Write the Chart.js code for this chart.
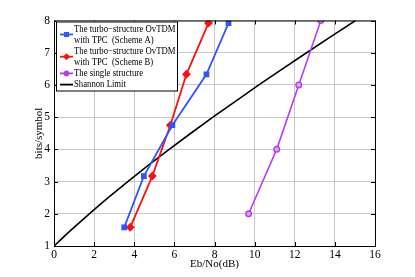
<!DOCTYPE html>
<html lang="en">
<head>
  <meta charset="UTF-8" />
  <title>OvTDM spectral efficiency</title>
  <script src="https://cdn.jsdelivr.net/npm/chart.js"></script>
  <style>
    html, body { margin: 0; padding: 0; background: #fff; }
    #wrap { width: 415px; height: 277px; position: relative; }
  </style>
</head>
<body>
  <div id="wrap"><canvas id="chart"></canvas></div>
  <script>
    // values
    const schemeAx = [3.5, 4.48, 5.9, 7.6, 8.7];
    const schemeAy = [1.58, 3.17, 4.75, 6.33, 7.92];
    const schemeBx = [3.8, 4.9, 5.8, 6.6, 7.7];
    const schemeBy = [1.58, 3.17, 4.75, 6.33, 7.92];
    const singleX = [9.7, 11.1, 12.2, 13.3];
    const singleY = [2, 4, 6, 8];
    const shannonX = [0, 0.43, 0.86, 1.31, 1.76, 2.23, 2.70, 3.68, 4.69, 5.74, 6.82, 7.92, 9.06, 10.21, 11.39, 12.59, 13.80, 15.03];
    const shannonY = [1, 1.25, 1.5, 1.75, 2, 2.25, 2.5, 3, 3.5, 4, 4.5, 5, 5.5, 6, 6.5, 7, 7.5, 8];
    const xTicks = [0, 2, 4, 6, 8, 10, 12, 14, 16];
    const yTicks = [1, 2, 3, 4, 5, 6, 7, 8];

    const legendLines = [
      ["The turbo\u2212structure OvTDM", "with TPC  (Scheme A)"],
      ["The turbo\u2212structure OvTDM", "with TPC  (Scheme B)"],
      ["The single structure"],
      ["Shannon Limit"]
    ];

    const BLUE = '#2e55ff', RED = '#ff1010', PURPLE = '#b43cf5';
    const SERIF = '"Liberation Serif", "DejaVu Serif", serif';

    const pts = (xs, ys) => xs.map((x, i) => ({ x, y: ys[i] }));

    // frame, inward ticks and the boxed legend
    const framePlugin = {
      id: 'frame',
      afterDatasetsDraw(chart) {
        const { ctx, chartArea: a, scales } = chart;
        ctx.save();
        ctx.strokeStyle = '#000';
        ctx.lineWidth = 1;
        ctx.strokeRect(a.left + 0.5, a.top + 0.5, a.right - a.left, a.bottom - a.top);
        ctx.beginPath();
        xTicks.forEach(v => {
          const px = Math.round(scales.x.getPixelForValue(v)) + 0.5;
          ctx.moveTo(px, a.bottom); ctx.lineTo(px, a.bottom - 4);
          ctx.moveTo(px, a.top); ctx.lineTo(px, a.top + 4);
        });
        yTicks.forEach(v => {
          const py = Math.round(scales.y.getPixelForValue(v)) + 0.5;
          ctx.moveTo(a.left, py); ctx.lineTo(a.left + 4, py);
          ctx.moveTo(a.right, py); ctx.lineTo(a.right - 4, py);
        });
        ctx.stroke();

        // legend
        const bx = a.left + 2, by = a.top + 1, bw = 121, bh = 69;
        ctx.fillStyle = '#fff';
        ctx.fillRect(bx, by, bw, bh);
        ctx.strokeStyle = '#000';
        ctx.strokeRect(bx + 0.5, by + 0.5, bw, bh);
        ctx.font = '10px ' + SERIF;
        ctx.textBaseline = 'middle';
        let y = by + 7.5;
        chart.data.datasets.forEach((ds, i) => {
          const lines = legendLines[i];
          const my = y + (lines.length - 1) * 5.5;
          ctx.strokeStyle = ds.borderColor;
          ctx.lineWidth = 1.8;
          ctx.beginPath();
          ctx.moveTo(bx + 4, my); ctx.lineTo(bx + 17, my);
          ctx.stroke();
          if (ds.pointRadius > 0) {
            ctx.fillStyle = ds.borderColor;
            ctx.beginPath();
            if (ds.pointStyle === 'rect') ctx.rect(bx + 8, my - 2.5, 5, 5);
            else if (ds.pointStyle === 'rectRot') {
              ctx.moveTo(bx + 10.5, my - 3.5); ctx.lineTo(bx + 14, my);
              ctx.lineTo(bx + 10.5, my + 3.5); ctx.lineTo(bx + 7, my);
              ctx.closePath();
            } else ctx.arc(bx + 10.5, my, 2.8, 0, Math.PI * 2);
            ctx.fill();
          }
          ctx.fillStyle = '#000';
          lines.forEach(t => {
            ctx.save();
            ctx.translate(bx + 18, y);
            ctx.scale(0.87, 1);
            ctx.fillText(t, 0, 0);
            ctx.restore();
            y += 11;
          });
          y += 0.2;
        });
        ctx.restore();
      }
    };

    const gridStyle = {
      color: '#c8c8c8',
      lineWidth: 1,
      borderDash: [1, 2],
      drawTicks: false
    };

    new Chart(document.getElementById('chart'), {
      type: 'scatter',
      data: {
        datasets: [
          { data: pts(schemeAx, schemeAy), borderColor: BLUE, backgroundColor: BLUE,
            showLine: true, borderWidth: 1.8, pointStyle: 'rect', pointRadius: 2.8 },
          { data: pts(schemeBx, schemeBy), borderColor: RED, backgroundColor: RED,
            showLine: true, borderWidth: 1.8, pointStyle: 'rectRot', pointRadius: 3.2 },
          { data: pts(singleX, singleY), borderColor: PURPLE, backgroundColor: '#d9a6fb',
            showLine: true, borderWidth: 1.6, pointStyle: 'circle', pointRadius: 2.8, pointBorderWidth: 1.4 },
          { data: pts(shannonX, shannonY), borderColor: '#000', backgroundColor: '#000',
            showLine: true, borderWidth: 1.6, pointRadius: 0, tension: 0 }
        ]
      },
      options: {
        responsive: true,
        maintainAspectRatio: false,
        animation: false,
        layout: { padding: { left: 33, top: 20.5, right: 40, bottom: 6 } },
        plugins: { legend: { display: false }, tooltip: { enabled: false } },
        scales: {
          x: {
            type: 'linear', min: 0, max: 16,
            afterBuildTicks: s => { s.ticks = xTicks.map(v => ({ value: v })); },
            afterFit: s => { s.height = 25; },
            grid: gridStyle,
            border: { display: false },
            ticks: { color: '#000', padding: 2, maxRotation: 0, font: { family: SERIF, size: 11.5 } },
            title: { display: true, text: 'Eb/No(dB)', color: '#000', padding: { top: 0, bottom: 0 },
                     font: { family: SERIF, size: 11 } }
          },
          y: {
            type: 'linear', min: 1, max: 8,
            afterBuildTicks: s => { s.ticks = yTicks.map(v => ({ value: v })); },
            afterFit: s => { s.width = 21; },
            grid: gridStyle,
            border: { display: false },
            ticks: { color: '#000', padding: 4, font: { family: SERIF, size: 11.5 } },
            title: { display: true, text: 'bits/symbol', color: '#000', padding: { top: 0, bottom: 0 },
                     font: { family: SERIF, size: 11 } }
          }
        }
      },
      plugins: [framePlugin]
    });
  </script>
</body>
</html>
